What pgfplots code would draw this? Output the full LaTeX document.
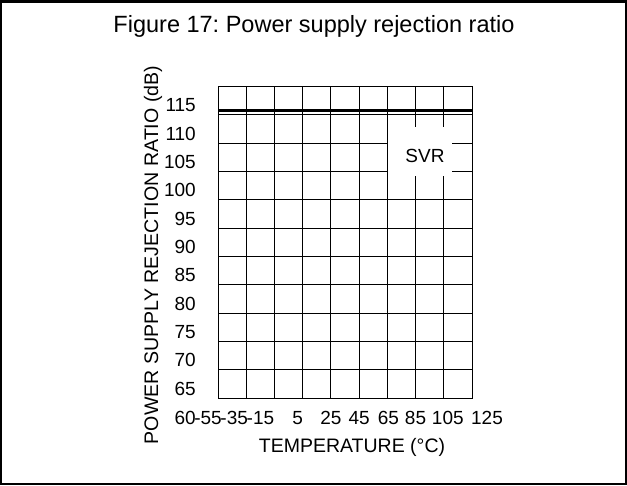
\documentclass[border=0pt]{standalone}
\usepackage{fontspec}
\setmainfont{Liberation Sans}
\usepackage{pgfplots}
\pgfplotsset{compat=1.18}
\newcommand{\sh}[2]{\makebox[0pt]{\hspace{#1}#2}}
\begin{document}
\frenchspacing
\fontsize{19bp}{22bp}\selectfont
\begin{tikzpicture}[x=1bp,y=1bp]
\path[use as bounding box] (0,0) rectangle (627,486);
\draw[line width=2.2bp] (1.1,1.6) rectangle (625.9,484.4);
\node[anchor=base, inner sep=0pt, font=\fontsize{23.5bp}{27bp}\selectfont] at (314,453) {Figure 17: Power supply rejection ratio};
\begin{axis}[
  at={(218bp,88bp)}, anchor=south west,
  scale only axis, width=254bp, height=311.5bp,
  xmin=-55, xmax=125, ymin=65, ymax=120,
  xtick={-55,-35,-15,5,25,45,65,85,105,125},
  xticklabels={\sh{-20bp}{-55},\sh{-24bp}{-35},\sh{-28bp}{-15},\sh{-10bp}{5},{25},{45},\sh{2bp}{65},{85},\sh{8bp}{105},\sh{30bp}{125}},
  ytick={65,70,...,115},
  /pgf/number format/assume math mode=true,
  major tick length=0pt,
  grid=major,
  grid style={black, line width=0.8bp},
  axis line style={black, line width=0.9bp},
  ticklabel style={font=\fontsize{19bp}{22bp}\selectfont},
  xticklabel style={anchor=base, inner sep=0pt, yshift=-27bp},
  yticklabel style={anchor=east, inner sep=0pt, xshift=-22bp, yshift=9.5bp},
  clip=false,
]
\addplot[black, line width=2.5bp, forget plot] coordinates {(-55,115.8) (125,115.8)};
\node[fill=white, minimum width=64bp, minimum height=49bp, inner sep=0pt] at (axis cs:88.2,108.6) {};
\node[inner sep=0pt] at (axis cs:91.7,107.8) {SVR};
\end{axis}
\node[anchor=base east, inner sep=0pt] at (196,61) {60};
\node[anchor=base, inner sep=0pt, font=\fontsize{19.5bp}{22bp}\selectfont] at (352,33) {TEMPERATURE (°C)};
\node[anchor=base, rotate=90, inner sep=0pt, font=\fontsize{19.6bp}{22bp}\selectfont] at (158,231) {POWER SUPPLY REJECTION RATIO (dB)};
\end{tikzpicture}
\end{document}
